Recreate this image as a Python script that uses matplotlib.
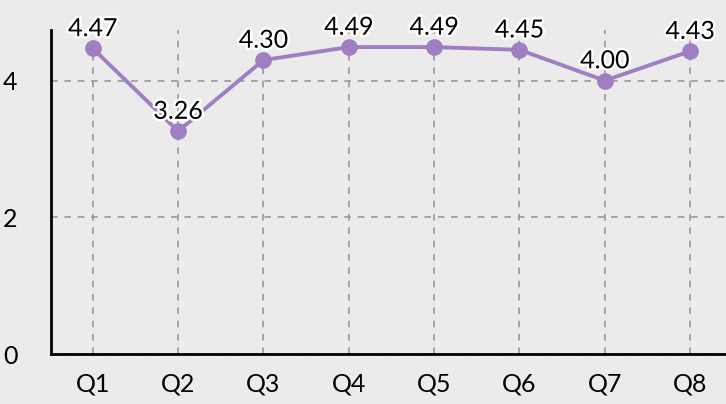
import matplotlib

matplotlib.use("Agg")
import matplotlib.pyplot as plt
import matplotlib.patheffects as pe

plt.rcParams["font.family"] = ["Lato", "DejaVu Sans"]

categories = ["Q1", "Q2", "Q3", "Q4", "Q5", "Q6", "Q7", "Q8"]
scores = [4.47, 3.26, 4.30, 4.49, 4.49, 4.45, 4.00, 4.43]
y_ticks = [0, 2, 4]

bg = "#ebebeb"
purple = "#9f7fc1"

fig = plt.figure(figsize=(7.26, 4.04), dpi=100, facecolor=bg)
ax = fig.add_axes([51 / 726, (404 - 354) / 404, (726 - 51) / 726, 324 / 404])
ax.set_facecolor(bg)

x = list(range(len(categories)))
ax.plot(x, scores, color=purple, linewidth=2.8, marker="o", markersize=11, zorder=3)

outline = [pe.withStroke(linewidth=3.5, foreground="white")]
for xi, v in zip(x, scores):
    ax.annotate(f"{v:.2f}", (xi, v), xytext=(0, 6), textcoords="offset points",
                ha="center", va="bottom", fontsize=18, color="black",
                path_effects=outline, zorder=4)

ax.set_xlim(-0.49, 7.42)
ax.set_ylim(0, 4.74)
ax.set_xticks(x)
ax.set_xticklabels(categories)
ax.set_yticks(y_ticks)
ax.tick_params(length=0, labelsize=18, pad=13)
ax.tick_params(axis="y", pad=24)
for lbl in ax.get_yticklabels():
    lbl.set_y(-0.03)

ax.grid(True, linestyle=(0, (4, 4)), color="#9a9a9a", linewidth=1.2)
ax.set_axisbelow(True)
for side in ("top", "right"):
    ax.spines[side].set_visible(False)
for side in ("left", "bottom"):
    ax.spines[side].set_color("black")
    ax.spines[side].set_linewidth(2)

fig.savefig("out.png", dpi=100, facecolor=bg)
